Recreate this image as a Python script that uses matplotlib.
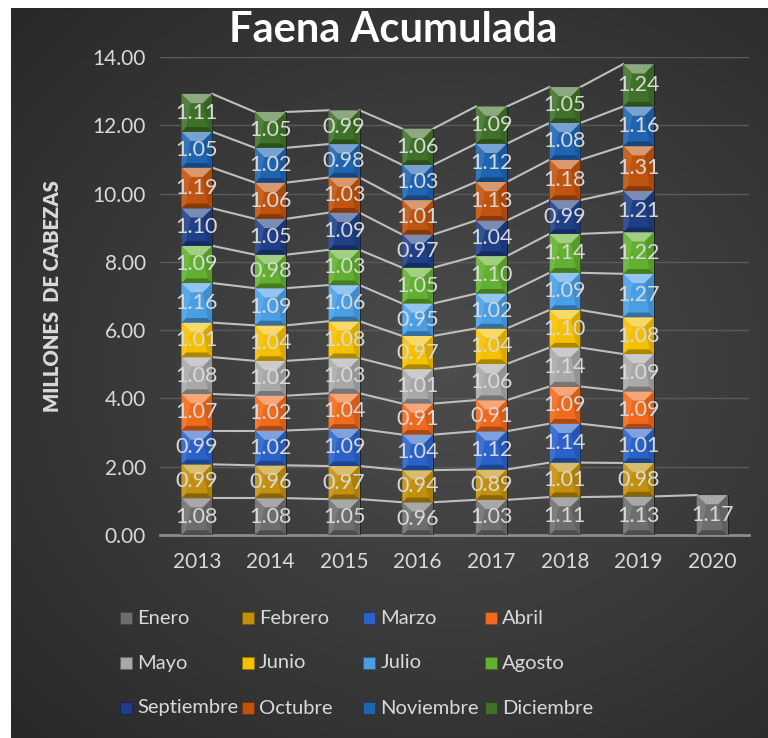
import matplotlib.pyplot as plt
import numpy as np
from matplotlib.patches import Polygon, Rectangle
from matplotlib.colors import to_rgb

plt.rcParams['font.family'] = ['Lato', 'DejaVu Sans']

anios = ['2013', '2014', '2015', '2016', '2017', '2018', '2019', '2020']
meses = ['Enero', 'Febrero', 'Marzo', 'Abril', 'Mayo', 'Junio', 'Julio',
         'Agosto', 'Septiembre', 'Octubre', 'Noviembre', 'Diciembre']

enero = [1.08, 1.08, 1.05, 0.96, 1.03, 1.11, 1.13, 1.17]
febrero = [0.99, 0.96, 0.97, 0.94, 0.89, 1.01, 0.98]
marzo = [0.99, 1.02, 1.09, 1.04, 1.12, 1.14, 1.01]
abril = [1.07, 1.02, 1.04, 0.91, 0.91, 1.09, 1.09]
mayo = [1.08, 1.02, 1.03, 1.01, 1.06, 1.14, 1.09]
junio = [1.01, 1.04, 1.08, 0.97, 1.04, 1.10, 1.08]
julio = [1.16, 1.09, 1.06, 0.95, 1.02, 1.09, 1.27]
agosto = [1.09, 0.98, 1.03, 1.05, 1.10, 1.14, 1.22]
septiembre = [1.10, 1.05, 1.09, 0.97, 1.04, 0.99, 1.21]
octubre = [1.19, 1.06, 1.03, 1.01, 1.13, 1.18, 1.31]
noviembre = [1.05, 1.02, 0.98, 1.03, 1.12, 1.08, 1.16]
diciembre = [1.11, 1.05, 0.99, 1.06, 1.09, 1.05, 1.24]

series = [enero, febrero, marzo, abril, mayo, junio, julio, agosto,
          septiembre, octubre, noviembre, diciembre]
colores = ['#6e6e6e', '#c2900c', '#2a62c9', '#f06a1c', '#a8a8a8', '#f5c000',
           '#4a9fe4', '#62b030', '#1f3f86', '#c0530e', '#1f64b0', '#3f7228']

texto = '#d9d9d9'


def mezclar(c, otro, f):
    c = np.array(to_rgb(c))
    return tuple(c + (np.array(otro) - c) * f)


fig = plt.figure(figsize=(7.68, 7.38), dpi=100, facecolor='white')

# fondo con degradado radial
bg = fig.add_axes([11 / 768, 0, 757 / 768, 730 / 738])
bg.set_axis_off()
yy, xx = np.mgrid[0:1:300j, 0:1:300j]
r = np.sqrt((xx - 0.58) ** 2 + ((yy - 0.5) * 1.1) ** 2)
g = np.clip(1 - r / 0.85, 0, 1)
claro = np.array([0.30, 0.30, 0.30])
oscuro = np.array([0.15, 0.15, 0.15])
img = oscuro + (claro - oscuro) * g[..., None]
bg.imshow(img, aspect='auto', extent=[0, 1, 0, 1], origin='lower')

ax = fig.add_axes([160 / 768, 203 / 738, 589 / 768, 478 / 738])
ax.set_facecolor('none')
x = np.arange(len(anios))
ancho = 0.42
ax.set_xlim(-0.5, len(anios) - 0.5)
ax.set_ylim(0, 14)

# escala px por unidad para el biselado
px_x = ax.transData.transform((1, 0))[0] - ax.transData.transform((0, 0))[0]
px_y = ax.transData.transform((0, 1))[1] - ax.transData.transform((0, 0))[1]

base = np.zeros(len(anios))
for vals, col in zip(series, colores):
    n = len(vals)
    v = np.array(vals)
    bars = ax.bar(x[:n], v, ancho, bottom=base[:n], color=col,
                  edgecolor='#1a1a1a', linewidth=0.6, zorder=3)
    for b in bars:
        x0, y0 = b.get_x(), b.get_y()
        w, h = b.get_width(), b.get_height()
        wpx = w * px_x
        dx_t, dy_t = 0.3 * w, 0.3 * wpx / px_y
        dx_b, dy_b = 0.15 * w, 0.15 * wpx / px_y
        tl, tr = (x0, y0 + h), (x0 + w, y0 + h)
        bl, br = (x0, y0), (x0 + w, y0)
        itl, itr = (x0 + dx_t, y0 + h - dy_t), (x0 + w - dx_t, y0 + h - dy_t)
        ibl, ibr = (x0 + dx_b, y0 + dy_b), (x0 + w - dx_b, y0 + dy_b)
        ax.add_patch(Polygon([tl, tr, itr, itl], color=mezclar(col, (1, 1, 1), 0.4), lw=0, zorder=3.5))
        ax.add_patch(Polygon([bl, br, ibr, ibl], color=mezclar(col, (0, 0, 0), 0.3), lw=0, zorder=3.5))
        ax.add_patch(Polygon([tl, itl, ibl, bl], color=mezclar(col, (1, 1, 1), 0.1), lw=0, zorder=3.5))
        ax.add_patch(Polygon([tr, itr, ibr, br], color=mezclar(col, (0, 0, 0), 0.12), lw=0, zorder=3.5))
        ax.text(x0 + w / 2, y0 + h / 2, f'{h:.2f}', ha='center', va='center',
                color=texto, fontsize=15.5, zorder=5)
    tops = base[:n] + v
    for i in range(n - 1):
        ax.plot([x[i] + ancho / 2, x[i + 1] - ancho / 2], [tops[i], tops[i + 1]],
                color='#bfbfbf', lw=1.5, zorder=2)
    base[:n] = tops

ax.set_yticks(np.arange(0, 15, 2))
ax.set_yticklabels([f'{t:.2f}' for t in np.arange(0, 15, 2)])
ax.set_xticks(x)
ax.set_xticklabels(anios)
ax.tick_params(colors=texto, labelsize=15, length=0, pad=10)
ax.tick_params(axis='x', pad=12)
ax.grid(axis='y', color='#5a5a5a', lw=1, zorder=0)
ax.set_axisbelow(True)
for s in ['top', 'right', 'left']:
    ax.spines[s].set_visible(False)
ax.spines['bottom'].set_color('#8c8c8c')
ax.spines['bottom'].set_linewidth(2)
ax.set_ylabel('MILLONES  DE CABEZAS', color=texto, fontsize=14.5,
              fontweight='heavy', labelpad=22)

fig.text(393 / 768, 1 - 30 / 738, 'Faena Acumulada', ha='center', va='center',
         color='white', fontsize=30, fontweight='bold')

# leyenda manual en 4 columnas
for i, (nombre, col) in enumerate(zip(meses, colores)):
    c, f = i % 4, i // 4
    xm = (120 + c * 121.7) / 768
    ym = 1 - (618 + f * 45) / 738
    fig.add_artist(Rectangle((xm, ym - 6 / 738), 12 / 768, 12 / 738,
                             transform=fig.transFigure, facecolor=col,
                             edgecolor=mezclar(col, (0, 0, 0), 0.4), lw=0.6))
    fig.text(xm + 17 / 768, ym, nombre, ha='left', va='center', color=texto,
             fontsize=14.5)

fig.savefig('out.png', dpi=100)
